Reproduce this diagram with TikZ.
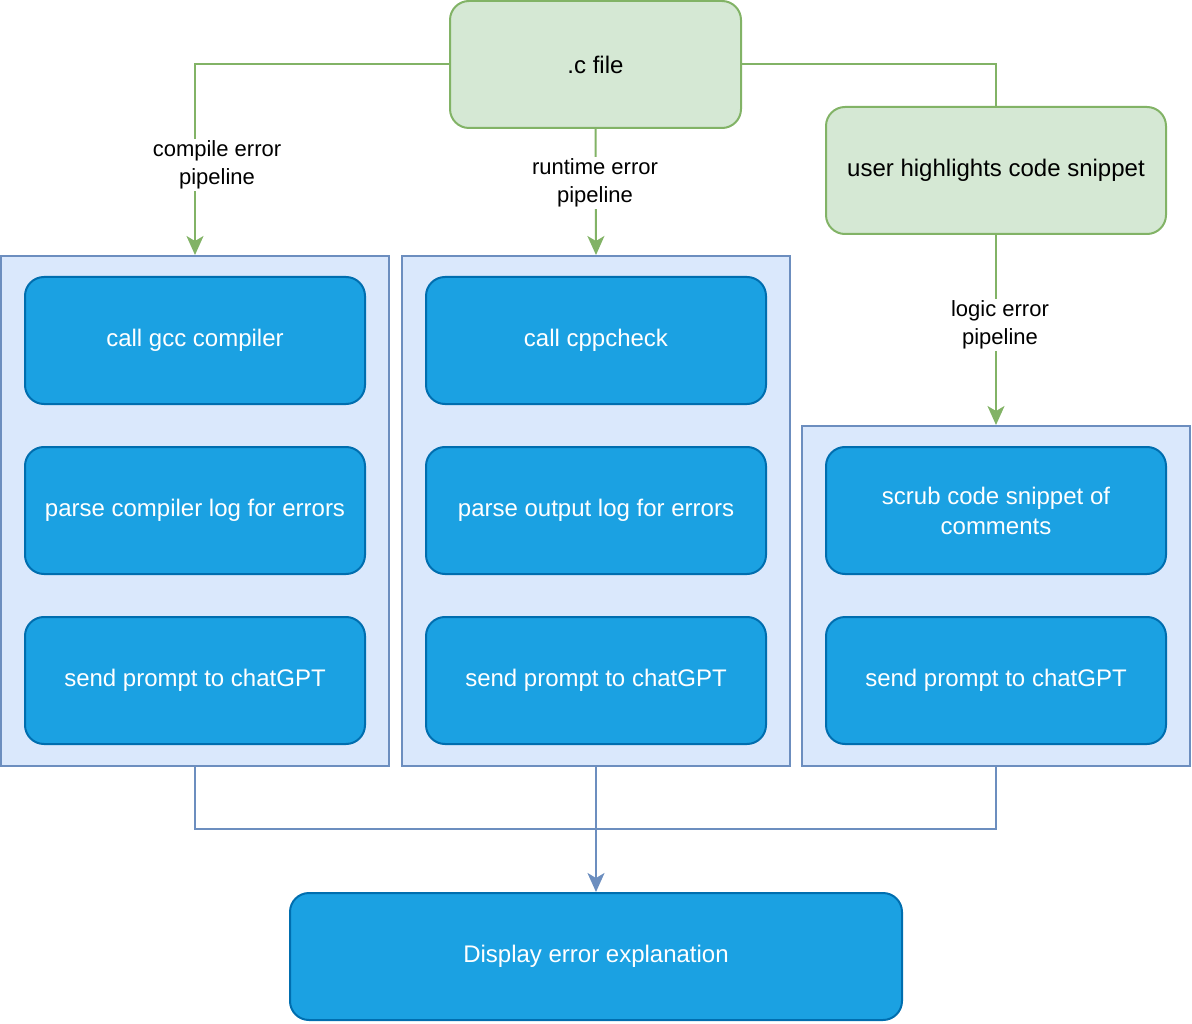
\documentclass[tikz,border=0pt]{standalone}
\usepackage{fontspec}
\setmainfont{Liberation Sans}
\usetikzlibrary{arrows.meta}
\definecolor{gfill}{HTML}{D5E8D4}
\definecolor{gline}{HTML}{82B366}
\definecolor{cfill}{HTML}{DAE8FC}
\definecolor{cline}{HTML}{6C8EBF}
\definecolor{bfill}{HTML}{1BA1E2}
\definecolor{bline}{HTML}{006EAF}
\tikzset{
  greenbox/.style={draw=gline, fill=gfill, line width=2pt, rounded corners=19pt,
    minimum height=127pt, align=center, text=black,
    font=\fontsize{24}{30}\selectfont, inner sep=0pt},
  group/.style={draw=cline, fill=cfill, line width=2pt, minimum width=388pt, inner sep=0pt},
  stepbox/.style={draw=bline, fill=bfill, line width=2pt, rounded corners=19pt,
    minimum width=340pt, minimum height=127pt, align=center, text=white,
    font=\fontsize{24}{30}\selectfont, inner sep=0pt},
  glink/.style={draw=gline, line width=2pt},
  blink/.style={draw=cline, line width=2pt},
  gtip/.style={-{Stealth[length=19pt,width=17pt,inset=5pt]}, gline},
  btip/.style={-{Stealth[length=19pt,width=17pt,inset=5pt]}, cline},
  lbl/.style={fill=white, align=center, text=black, inner sep=2pt,
    font=\fontsize{22}{28}\selectfont},
}
\begin{document}
\begin{tikzpicture}[x=1pt, y=-1pt]
\useasboundingbox (0,0) rectangle (1192,1024);

% sources
\node[greenbox, minimum width=291pt] (cfile) at (595.5,64.5) {.c file};
\node[greenbox, minimum width=340pt] (user) at (996,170.5) {user highlights code snippet};

% pipeline groups
\node[group, minimum height=510pt] (g1) at (195,511) {};
\node[group, minimum height=510pt] (g2) at (596,511) {};
\node[group, minimum height=340pt] (g3) at (996,596) {};

% compile error pipeline
\node[stepbox] (a1) at (195,340.5) {call gcc compiler};
\node[stepbox] (a2) at (195,510.5) {parse compiler log for errors};
\node[stepbox] (a3) at (195,680.5) {send prompt to chatGPT};

% runtime error pipeline
\node[stepbox] (b1) at (596,340.5) {call cppcheck};
\node[stepbox] (b2) at (596,510.5) {parse output log for errors};
\node[stepbox] (b3) at (596,680.5) {send prompt to chatGPT};

% logic error pipeline
\node[stepbox] (c1) at (996,510.5) {scrub code snippet of\\comments};
\node[stepbox] (c2) at (996,680.5) {send prompt to chatGPT};

% result
\node[stepbox, minimum width=612pt] (disp) at (596,956.5) {Display error explanation};

% green connectors from the source file
\draw[glink, gtip] (cfile.west) -| (g1.north);
\draw[glink, gtip] (cfile.south) -- (g2.north);
\draw[glink] (cfile.east) -| (user.north);
\draw[glink, gtip] (user.south) -- (g3.north);

\node[lbl] (lcomp) at (217,165) {compile error\\pipeline};
\node[lbl] (lrun) at (595,183) {runtime error\\pipeline};
\node[lbl] (llog) at (1000,325) {logic error\\pipeline};

% results merge into the display box
\coordinate (join) at (596,829);
\draw[blink] (g1.south) |- (join);
\draw[blink] (g3.south) |- (join);
\draw[blink, btip] (g2.south) -- (disp.north);
\end{tikzpicture}
\end{document}
